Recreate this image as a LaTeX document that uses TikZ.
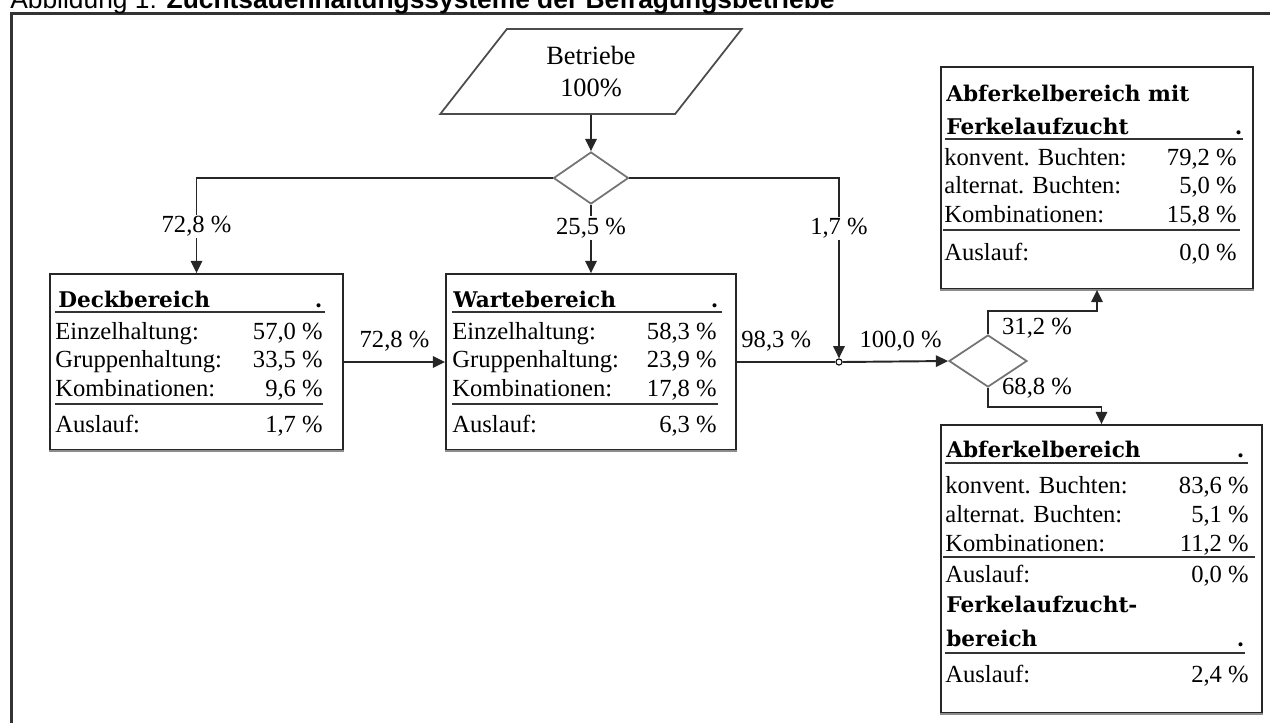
\documentclass[tikz,border=0pt]{standalone}
\usepackage{fontspec}
\setmainfont{Liberation Serif}
\newfontfamily\titelfont{DejaVu Serif}
\newfontfamily\kopffont{Liberation Sans}
\usetikzlibrary{shapes.geometric,arrows.meta}

\begin{document}
\begin{tikzpicture}[scale=0.2,
		kasten/.style={draw=black!85, line width=1pt, rectangle},
		schatten/.style={draw=black!45, line width=1.5pt},
		raute/.style={draw=black!55, line width=1pt, diamond},
		pfeil/.style={draw=black!85, line width=1.1pt, -{Triangle[length=7pt,width=6.5pt]}},
		linie/.style={draw=black!85, line width=1.1pt},
		strich/.style={draw=black!80, line width=1.1pt},
		titel/.style={anchor=base west, font=\titelfont\bfseries\fontsize{12.3}{14}\selectfont},
		lbl/.style={anchor=base west, font=\fontsize{14}{16}\selectfont},
		wert/.style={anchor=base east, font=\fontsize{14}{16}\selectfont},
		pct/.style={font=\fontsize{14}{16}\selectfont, fill=white, inner sep=1pt}]
		\tikzstyle{every node}+=[inner sep=0pt]
		\useasboundingbox (0,0) rectangle (127,-72.2);
		\clip (0,0) rectangle (127,-72.2);
		\draw [black!80, line width=1.7pt] (1.15,-73) -- (1.15,-1.35) -- (128,-1.35);
		\node (kopf) [anchor=base west, font=\kopffont\fontsize{15}{18}\selectfont] at (1.0,-0.85) {Abbildung 1: \textbf{Zuchtsauenhaltungssysteme der Befragungsbetriebe}};
		\node (betriebe) [draw=black!70, line width=1pt, trapezium, trapezium left angle=55, trapezium right angle=125, trapezium stretches=true, minimum width=6.08cm, minimum height=1.7cm, align=center, font=\fontsize{15}{18.1}\selectfont] at (59.1,-7.15) {Betriebe\\100\%};
		\node (raute1) [raute, minimum width=1.5cm, minimum height=1.04cm] at (59.1,-17.8) {};
		\node (raute2) [raute, minimum width=1.56cm, minimum height=1.04cm] at (98.8,-36.1) {};
		\node (knoten) [circle, draw=black, fill=white, line width=0.6pt, minimum size=3.5pt] at (83.9,-36.2) {};
		\node (deck) [kasten, minimum width=5.86cm, minimum height=3.52cm] at (19.65,-36.2) {};
		\node (warte) [kasten, minimum width=5.80cm, minimum height=3.52cm] at (59.1,-36.2) {};
		\node (oben) [kasten, minimum width=6.24cm, minimum height=4.44cm] at (109.7,-17.8) {};
		\node (unten) [kasten, minimum width=6.42cm, minimum height=5.76cm] at (110.15,-56.9) {};
		\draw [schatten] ([yshift=-0.8pt]deck.south west) -- ([yshift=-0.8pt]deck.south east);
		\draw [schatten] ([yshift=-0.8pt]warte.south west) -- ([yshift=-0.8pt]warte.south east);
		\draw [schatten] ([yshift=-0.8pt]oben.south west) -- ([yshift=-0.8pt]oben.south east);
		\draw [schatten] ([yshift=-0.8pt]unten.south west) -- ([yshift=-0.8pt]unten.south east);
		\draw [pfeil] (betriebe.south) -- (raute1.north);
		\draw [pfeil] (raute1.west) -| node[pct, pos=0.755] (p1) {72,8 \%} (deck.north);
		\draw [pfeil] (raute1.south) -- node[pct, pos=0.34] (p2) {25,5 \%} (warte.north);
		\draw [pfeil] (raute1.east) -| node[pct, pos=0.64] (p3) {1,7 \%} (knoten.north);
		\draw [pfeil] (deck.east) -- node[pct, above=4.5pt] (p4) {72,8 \%} (warte.west);
		\draw [linie] (warte.east) -- node[pct, above=4.5pt, pos=0.4] (p5) {98,3 \%} (knoten.west);
		\draw [pfeil] (knoten.east) -- node[pct, above=4.5pt, pos=0.55] (p6) {100,0 \%} (raute2.west);
		\draw [pfeil] (raute2.north) -- ++(0,2.3) -| (oben.south);
		\draw [pfeil] (raute2.south) -- ++(0,-1.9) -| (unten.north);
		\node (p7) [pct, fill=none] at (103.7,-32.8) {31,2 \%};
		\node (p8) [pct, fill=none] at (103.7,-38.8) {68,8 \%};
		\node (deckT) [titel, text width=5.28cm] at (5.8,-30.7) {Deckbereich\hfill.};
		\draw [strich] (5.5,-31.2) -- (32.5,-31.2);
		\node (deckE) [lbl] at (5.5,-33.9) {Einzelhaltung:};
		\node (deckEw) [wert] at (32.3,-33.9) {57,0 \%};
		\node (deckG) [lbl] at (5.5,-36.7) {Gruppenhaltung:};
		\node (deckGw) [wert] at (32.3,-36.7) {33,5 \%};
		\node (deckK) [lbl] at (5.5,-39.6) {Kombinationen:};
		\node (deckKw) [wert] at (32.3,-39.6) {9,6 \%};
		\draw [strich] (5.5,-40.4) -- (32.3,-40.4);
		\node (deckA) [lbl] at (5.5,-43.2) {Auslauf:};
		\node (deckAw) [wert] at (32.3,-43.2) {1,7 \%};
		\node (warteT) [titel, text width=5.3cm] at (45.3,-30.7) {Wartebereich\hfill.};
		\draw [strich] (45.2,-31.2) -- (72.2,-31.2);
		\node (warteE) [lbl] at (45.2,-33.9) {Einzelhaltung:};
		\node (warteEw) [wert] at (71.7,-33.9) {58,3 \%};
		\node (warteG) [lbl] at (45.2,-36.7) {Gruppenhaltung:};
		\node (warteGw) [wert] at (71.7,-36.7) {23,9 \%};
		\node (warteK) [lbl] at (45.2,-39.6) {Kombinationen:};
		\node (warteKw) [wert] at (71.7,-39.6) {17,8 \%};
		\draw [strich] (45.2,-40.4) -- (71.8,-40.4);
		\node (warteA) [lbl] at (45.2,-43.2) {Auslauf:};
		\node (warteAw) [wert] at (71.7,-43.2) {6,3 \%};
		\node (obenT1) [titel] at (94.6,-10.1) {Abferkelbereich mit};
		\node (obenT2) [titel, text width=5.92cm] at (94.6,-13.4) {Ferkelaufzucht\hfill.};
		\draw [strich] (94.5,-13.9) -- (124.3,-13.9);
		\node (obenK1) [lbl] at (94.4,-16.5) {konvent. Buchten:};
		\node (obenK1w) [wert] at (123.7,-16.5) {79,2 \%};
		\node (obenA1) [lbl] at (94.4,-19.3) {alternat. Buchten:};
		\node (obenA1w) [wert] at (123.7,-19.3) {5,0 \%};
		\node (obenK2) [lbl] at (94.4,-22.2) {Kombinationen:};
		\node (obenK2w) [wert] at (123.7,-22.2) {15,8 \%};
		\draw [strich] (94.3,-23.0) -- (124.0,-23.0);
		\node (obenA2) [lbl] at (94.4,-26.0) {Auslauf:};
		\node (obenA2w) [wert] at (123.7,-26.0) {0,0 \%};
		\node (untenT) [titel, text width=5.96cm] at (94.6,-45.7) {Abferkelbereich\hfill.};
		\draw [strich] (94.5,-46.3) -- (124.8,-46.3);
		\node (untenK1) [lbl] at (94.5,-49.3) {konvent. Buchten:};
		\node (untenK1w) [wert] at (124.9,-49.3) {83,6 \%};
		\node (untenA1) [lbl] at (94.5,-52.2) {alternat. Buchten:};
		\node (untenA1w) [wert] at (124.9,-52.2) {5,1 \%};
		\node (untenK2) [lbl] at (94.5,-55.1) {Kombinationen:};
		\node (untenK2w) [wert] at (124.9,-55.1) {11,2 \%};
		\draw [strich] (94.3,-55.7) -- (125.5,-55.7);
		\node (untenA2) [lbl] at (94.5,-58.2) {Auslauf:};
		\node (untenA2w) [wert] at (124.9,-58.2) {0,0 \%};
		\node (untenF1) [titel] at (94.6,-61.2) {Ferkelaufzucht-};
		\node (untenF2) [titel, text width=5.96cm] at (94.6,-64.6) {bereich\hfill.};
		\draw [strich] (94.5,-65.3) -- (124.5,-65.3);
		\node (untenA3) [lbl] at (94.5,-68.2) {Auslauf:};
		\node (untenA3w) [wert] at (124.9,-68.2) {2,4 \%};
		\end{tikzpicture}
\end{document}
